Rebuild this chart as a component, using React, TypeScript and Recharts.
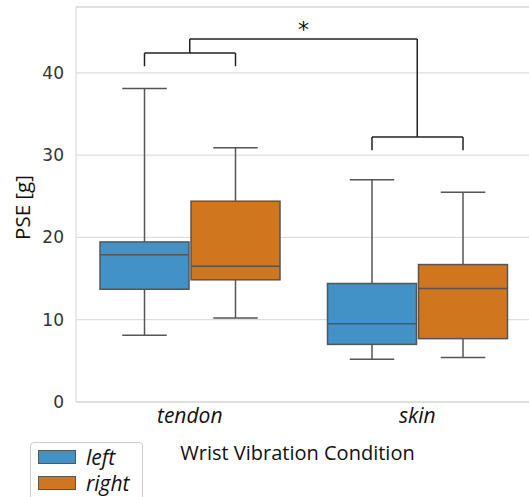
import React from 'react';
import { ComposedChart, Bar, XAxis, YAxis, CartesianGrid, ReferenceLine } from 'recharts';

// box plot summaries (PSE in grams)
const conditions = ['tendon', 'skin'];
const leftLow = [8.1, 5.2];
const leftQ1 = [13.7, 7.0];
const leftMedian = [17.9, 9.5];
const leftQ3 = [19.45, 14.4];
const leftHigh = [38.1, 27.0];
const rightLow = [10.2, 5.4];
const rightQ1 = [14.85, 7.7];
const rightMedian = [16.5, 13.8];
const rightQ3 = [24.4, 16.7];
const rightHigh = [30.9, 25.5];

// significance brackets
const bracketLevel = [42.4, 32.2];
const bracketTickEnd = [40.8, 30.6];
const topBracket = 44.1;
const yTicks = [0, 10, 20, 30, 40];
const yMax = 48;

const BLUE = '#4291c7';
const ORANGE = '#d0761e';
const EDGE = '#555555';
const BAR_GAP = 2;

const data = conditions.map((c, i) => ({
  condition: c,
  left: { low: leftLow[i], q1: leftQ1[i], median: leftMedian[i], q3: leftQ3[i], high: leftHigh[i] },
  right: { low: rightLow[i], q1: rightQ1[i], median: rightMedian[i], q3: rightQ3[i], high: rightHigh[i] },
  bracket: { level: bracketLevel[i], tickEnd: bracketTickEnd[i] },
}));

const makeBox = (side: 'left' | 'right', fill: string) => (props: any) => {
  const { x, y, width, height, payload } = props;
  const s = payload[side];
  const top = Math.min(y, y + height);
  const h = Math.abs(height);
  const k = h / (s.high - s.low);
  const toY = (v: number) => top + (s.high - v) * k;
  const cx = x + width / 2;
  const cap = width / 4;
  const b = payload.bracket;
  const other = side === 'left' ? cx + width + BAR_GAP : cx;
  return (
    <g>
      <line x1={cx} x2={cx} y1={toY(s.high)} y2={toY(s.q3)} stroke={EDGE} strokeWidth={1.5} />
      <line x1={cx} x2={cx} y1={toY(s.q1)} y2={toY(s.low)} stroke={EDGE} strokeWidth={1.5} />
      <line x1={cx - cap} x2={cx + cap} y1={toY(s.high)} y2={toY(s.high)} stroke={EDGE} strokeWidth={1.5} />
      <line x1={cx - cap} x2={cx + cap} y1={toY(s.low)} y2={toY(s.low)} stroke={EDGE} strokeWidth={1.5} />
      <rect x={x} y={toY(s.q3)} width={width} height={toY(s.q1) - toY(s.q3)} fill={fill} stroke={EDGE} strokeWidth={1.5} />
      <line x1={x} x2={x + width} y1={toY(s.median)} y2={toY(s.median)} stroke={EDGE} strokeWidth={1.5} />
      <line x1={cx} x2={cx} y1={toY(b.tickEnd)} y2={toY(b.level)} stroke="#222" strokeWidth={1.5} />
      {side === 'left' && (
        <line x1={cx} x2={other} y1={toY(b.level)} y2={toY(b.level)} stroke="#222" strokeWidth={1.5} />
      )}
    </g>
  );
};

const LegendBox = () => (
  <div
    style={{
      position: 'absolute',
      left: 30,
      top: 442,
      width: 113,
      height: 70,
      boxSizing: 'border-box',
      border: '1px solid #cccccc',
      borderRadius: 4,
      background: '#fff',
      padding: '1px 0 0 7px',
      fontFamily: 'Open Sans',
      fontStyle: 'italic',
      fontSize: 21,
      color: '#111',
      lineHeight: '26px',
    }}
  >
    {[
      { name: 'left', color: BLUE },
      { name: 'right', color: ORANGE },
    ].map((it) => (
      <div key={it.name} style={{ display: 'flex', alignItems: 'center' }}>
        <span style={{ display: 'inline-block', width: 36, height: 12, background: it.color, border: `1px solid ${EDGE}`, marginRight: 10 }} />
        {it.name}
      </div>
    ))}
  </div>
);

const YLabel = (props: any) => {
  const vb = props.viewBox;
  const cx = 22;
  const cy = vb.y + vb.height / 2 + 3;
  return (
    <text x={cx} y={cy} transform={`rotate(-90 ${cx} ${cy})`} textAnchor="middle" dominantBaseline="central"
      fontFamily="Open Sans" fontSize={20.5} fill="#111">
      PSE [g]
    </text>
  );
};

export default function App() {
  return (
    <div style={{ position: 'absolute', left: 0, top: 0, width: 529, height: 497, overflow: 'hidden', background: '#fff' }}>
      <ComposedChart width={529} height={497} data={data} margin={{ top: 7, right: -2, left: 0, bottom: 35 }}
        barSize={89} barGap={BAR_GAP}>
        <CartesianGrid vertical={false} stroke="#dddddd" strokeWidth={1.3} />
        <XAxis dataKey="condition" height={60} axisLine={{ stroke: '#dddddd', strokeWidth: 1.3 }} tickLine={false}
          tickSize={0} tickMargin={6}
          tick={{ fontFamily: 'Open Sans', fontStyle: 'italic', fontSize: 21, fill: '#111' }}
          label={{ value: 'Wrist Vibration Condition', position: 'insideBottom', offset: 2, dx: -6,
            style: { fontFamily: 'Open Sans', fontSize: 20, fill: '#111' } }} />
        <YAxis type="number" domain={[0, yMax]} ticks={yTicks} width={76} axisLine={{ stroke: '#dddddd', strokeWidth: 1.3 }}
          tickLine={false} tickSize={0} tickMargin={12} interval={0}
          tick={{ fontFamily: 'DejaVu Sans', fontSize: 17, fill: '#333' }}
          label={<YLabel />} />
        <ReferenceLine y={yMax} stroke="#dddddd" strokeWidth={1.3} />
        <Bar dataKey={(d: any) => [d.left.low, d.left.high]} name="left" fill={BLUE} shape={makeBox('left', BLUE)} isAnimationActive={false} />
        <Bar dataKey={(d: any) => [d.right.low, d.right.high]} name="right" fill={ORANGE} shape={makeBox('right', ORANGE)} isAnimationActive={false} />
        <ReferenceLine segment={[{ x: 'tendon', y: bracketLevel[0] }, { x: 'tendon', y: topBracket }]} stroke="#222" strokeWidth={1.5} />
        <ReferenceLine segment={[{ x: 'tendon', y: topBracket }, { x: 'skin', y: topBracket }]} stroke="#222" strokeWidth={1.5}
          label={{ value: '*', position: 'top', offset: 2, style: { fontFamily: 'DejaVu Sans', fontSize: 22, fill: '#111' } }} />
        <ReferenceLine segment={[{ x: 'skin', y: topBracket }, { x: 'skin', y: bracketLevel[1] }]} stroke="#222" strokeWidth={1.5} />
      </ComposedChart>
      <LegendBox />
    </div>
  );
}
